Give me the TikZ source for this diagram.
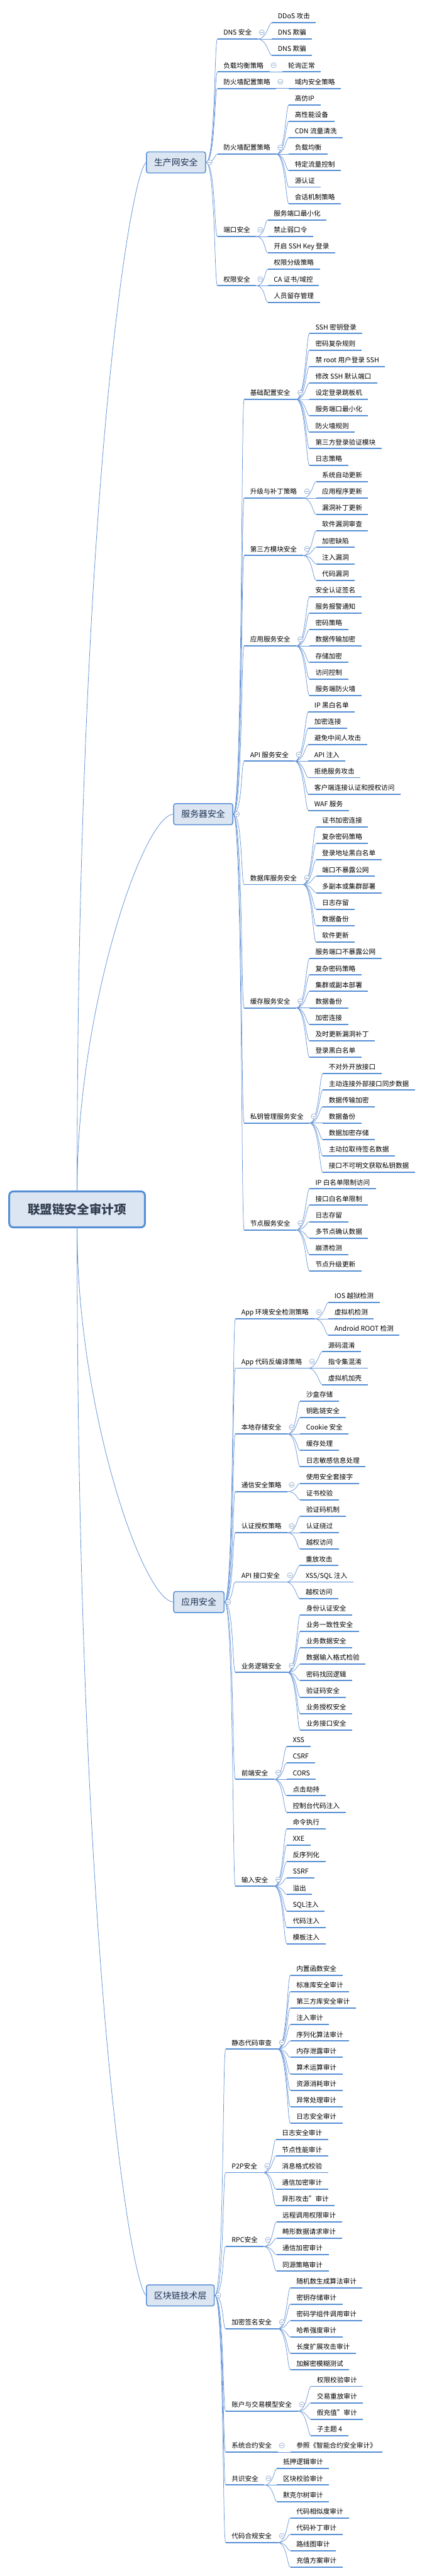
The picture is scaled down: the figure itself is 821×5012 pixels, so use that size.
\documentclass[tikz,border=0pt]{standalone}
\usepackage{fontspec}
\setmainfont{Noto Sans CJK SC}
\usepackage{tikz}
\usetikzlibrary{calc}
\definecolor{topicblue}{RGB}{85,142,213}
\definecolor{topicfill}{RGB}{220,230,242}
\definecolor{linkblue}{RGB}{105,150,215}
\definecolor{foldgray}{RGB}{140,165,205}
\definecolor{roottext}{RGB}{52,64,82}
\definecolor{maintext}{RGB}{31,50,85}

\begin{document}
\begin{tikzpicture}[
  x=1pt, y=1pt,
  rootbox/.style={rectangle,rounded corners=8pt,draw=topicblue,line width=3.6pt,fill=topicfill,minimum width=264pt,minimum height=70pt,text=roottext,font=\fontsize{24pt}{28pt}\selectfont\bfseries},
  mainbox/.style={rectangle,rounded corners=4pt,draw=topicblue,line width=1.8pt,fill=topicfill,anchor=west,inner xsep=15pt,minimum height=41pt,text=maintext,font=\fontsize{17pt}{20pt}\selectfont},
  leaf/.style={anchor=south west,inner xsep=11.5pt,inner ysep=5.5pt,text height=10.5pt,text depth=2pt,font=\fontsize{13pt}{15pt}\selectfont,append after command={(\tikzlastnode.south west) edge[uline] (\tikzlastnode.south east)}},
  subtopic/.style={leaf},
  uline/.style={draw=topicblue,line width=2.4pt},
  link/.style={draw=linkblue,line width=0.9pt,to path={.. controls +(18,0) and +(-6,0) .. (\tikztotarget)}},
  rootlink/.style={draw=linkblue,line width=1pt},
  foldmark/.pic={\draw[foldgray,fill=white,line width=0.8pt] (0,0) circle[radius=5pt]; \draw[foldgray,line width=0.8pt] (-2.8pt,0) -- (2.8pt,0);}
]
  \useasboundingbox (0,0) rectangle (821,-5012);

  % root and main topics
  \node[rootbox] (root) at (150,-2353) {联盟链安全审计项};
  \node[mainbox] (prod) at (284,-316) {生产网安全};
  \node[mainbox] (srv) at (337,-1584) {服务器安全};
  \node[mainbox] (app) at (337,-3117) {应用安全};
  \node[mainbox] (chain) at (284,-4466) {区块链技术层};

  % 生产网安全
  \node[subtopic] (dns) at (423,-76) {DNS 安全};
  \node[leaf] (dns1) at (529,-44) {DDoS 攻击};
  \node[leaf] (dns2) at (529,-76) {DNS 欺骗};
  \node[leaf] (dns3) at (529,-108) {DNS 欺骗};
  \node[subtopic] (lb) at (423,-140) {负载均衡策略};
  \node[leaf] (lb1) at (549,-140) {轮询正常};
  \node[subtopic] (fwa) at (423,-172) {防火墙配置策略};
  \node[leaf] (fwa1) at (562,-172) {域内安全策略};
  \node[subtopic] (fwb) at (423,-300) {防火墙配置策略};
  \node[leaf] (fwb1) at (562,-204) {高仿IP};
  \node[leaf] (fwb2) at (562,-236) {高性能设备};
  \node[leaf] (fwb3) at (562,-268) {CDN 流量清洗};
  \node[leaf] (fwb4) at (562,-300) {负载均衡};
  \node[leaf] (fwb5) at (562,-332) {特定流量控制};
  \node[leaf] (fwb6) at (562,-364) {源认证};
  \node[leaf] (fwb7) at (562,-396) {会话机制策略};
  \node[subtopic] (port) at (423,-460) {端口安全};
  \node[leaf] (port1) at (521,-428) {服务端口最小化};
  \node[leaf] (port2) at (521,-460) {禁止弱口令};
  \node[leaf] (port3) at (521,-492) {开启 SSH Key 登录};
  \node[subtopic] (perm) at (423,-556) {权限安全};
  \node[leaf] (perm1) at (521,-524) {权限分级策略};
  \node[leaf] (perm2) at (521,-556) {CA 证书/域控};
  \node[leaf] (perm3) at (521,-588) {人员留存管理};

  % 服务器安全
  \node[subtopic] (base) at (475,-777) {基础配置安全};
  \node[leaf] (base1) at (602,-649) {SSH 密钥登录};
  \node[leaf] (base2) at (602,-681) {密码复杂规则};
  \node[leaf] (base3) at (602,-713) {禁 root 用户登录 SSH};
  \node[leaf] (base4) at (602,-745) {修改 SSH 默认端口};
  \node[leaf] (base5) at (602,-777) {设定登录跳板机};
  \node[leaf] (base6) at (602,-809) {服务端口最小化};
  \node[leaf] (base7) at (602,-841) {防火墙规则};
  \node[leaf] (base8) at (602,-873) {第三方登录验证模块};
  \node[leaf] (base9) at (602,-905) {日志策略};
  \node[subtopic] (patch) at (475,-969) {升级与补丁策略};
  \node[leaf] (patch1) at (615,-937) {系统自动更新};
  \node[leaf] (patch2) at (615,-969) {应用程序更新};
  \node[leaf] (patch3) at (615,-1001) {漏洞补丁更新};
  \node[subtopic] (third) at (475,-1081) {第三方模块安全};
  \node[leaf] (third1) at (615,-1033) {软件漏洞审查};
  \node[leaf] (third2) at (615,-1065) {加密缺陷};
  \node[leaf] (third3) at (615,-1097) {注入漏洞};
  \node[leaf] (third4) at (615,-1129) {代码漏洞};
  \node[subtopic] (appsvc) at (475,-1257) {应用服务安全};
  \node[leaf] (appsvc1) at (602,-1161) {安全认证签名};
  \node[leaf] (appsvc2) at (602,-1193) {服务报警通知};
  \node[leaf] (appsvc3) at (602,-1225) {密码策略};
  \node[leaf] (appsvc4) at (602,-1257) {数据传输加密};
  \node[leaf] (appsvc5) at (602,-1289) {存储加密};
  \node[leaf] (appsvc6) at (602,-1321) {访问控制};
  \node[leaf] (appsvc7) at (602,-1353) {服务端防火墙};
  \node[subtopic] (api) at (475,-1481) {API 服务安全};
  \node[leaf] (api1) at (600,-1385) {IP 黑白名单};
  \node[leaf] (api2) at (600,-1417) {加密连接};
  \node[leaf] (api3) at (600,-1449) {避免中间人攻击};
  \node[leaf] (api4) at (600,-1481) {API 注入};
  \node[leaf] (api5) at (600,-1513) {拒绝服务攻击};
  \node[leaf] (api6) at (600,-1545) {客户端连接认证和授权访问};
  \node[leaf] (api7) at (600,-1577) {WAF 服务};
  \node[subtopic] (db) at (475,-1721) {数据库服务安全};
  \node[leaf] (db1) at (615,-1609) {证书加密连接};
  \node[leaf] (db2) at (615,-1641) {复杂密码策略};
  \node[leaf] (db3) at (615,-1673) {登录地址黑白名单};
  \node[leaf] (db4) at (615,-1705) {端口不暴露公网};
  \node[leaf] (db5) at (615,-1737) {多副本或集群部署};
  \node[leaf] (db6) at (615,-1769) {日志存留};
  \node[leaf] (db7) at (615,-1801) {数据备份};
  \node[leaf] (db8) at (615,-1833) {软件更新};
  \node[subtopic] (cache) at (475,-1961) {缓存服务安全};
  \node[leaf] (cache1) at (602,-1865) {服务端口不暴露公网};
  \node[leaf] (cache2) at (602,-1897) {复杂密码策略};
  \node[leaf] (cache3) at (602,-1929) {集群或副本部署};
  \node[leaf] (cache4) at (602,-1961) {数据备份};
  \node[leaf] (cache5) at (602,-1993) {加密连接};
  \node[leaf] (cache6) at (602,-2025) {及时更新漏洞补丁};
  \node[leaf] (cache7) at (602,-2057) {登录黑白名单};
  \node[subtopic] (key) at (475,-2185) {私钥管理服务安全};
  \node[leaf] (key1) at (628,-2089) {不对外开放接口};
  \node[leaf] (key2) at (628,-2121) {主动连接外部接口同步数据};
  \node[leaf] (key3) at (628,-2153) {数据传输加密};
  \node[leaf] (key4) at (628,-2185) {数据备份};
  \node[leaf] (key5) at (628,-2217) {数据加密存储};
  \node[leaf] (key6) at (628,-2249) {主动拉取待签名数据};
  \node[leaf] (key7) at (628,-2281) {接口不可明文获取私钥数据};
  \node[subtopic] (peer) at (475,-2393) {节点服务安全};
  \node[leaf] (peer1) at (602,-2313) {IP 白名单限制访问};
  \node[leaf] (peer2) at (602,-2345) {接口白名单限制};
  \node[leaf] (peer3) at (602,-2377) {日志存留};
  \node[leaf] (peer4) at (602,-2409) {多节点确认数据};
  \node[leaf] (peer5) at (602,-2441) {崩溃检测};
  \node[leaf] (peer6) at (602,-2473) {节点升级更新};

  % 应用安全
  \node[subtopic] (env) at (458,-2566) {App 环境安全检测策略};
  \node[leaf] (env1) at (639,-2534) {IOS 越狱检测};
  \node[leaf] (env2) at (639,-2566) {虚拟机检测};
  \node[leaf] (env3) at (639,-2598) {Android ROOT 检测};
  \node[subtopic] (decomp) at (458,-2662) {App 代码反编译策略};
  \node[leaf] (decomp1) at (627,-2630) {源码混淆};
  \node[leaf] (decomp2) at (627,-2662) {指令集混淆};
  \node[leaf] (decomp3) at (627,-2694) {虚拟机加壳};
  \node[subtopic] (store) at (458,-2790) {本地存储安全};
  \node[leaf] (store1) at (584,-2726) {沙盒存储};
  \node[leaf] (store2) at (584,-2758) {钥匙链安全};
  \node[leaf] (store3) at (584,-2790) {Cookie 安全};
  \node[leaf] (store4) at (584,-2822) {缓存处理};
  \node[leaf] (store5) at (584,-2854) {日志敏感信息处理};
  \node[subtopic] (comm) at (458,-2902) {通信安全策略};
  \node[leaf] (comm1) at (584,-2886) {使用安全套接字};
  \node[leaf] (comm2) at (584,-2918) {证书校验};
  \node[subtopic] (auth) at (458,-2982) {认证授权策略};
  \node[leaf] (auth1) at (584,-2950) {验证码机制};
  \node[leaf] (auth2) at (584,-2982) {认证绕过};
  \node[leaf] (auth3) at (584,-3014) {越权访问};
  \node[subtopic] (apiif) at (458,-3078) {API 接口安全};
  \node[leaf] (apiif1) at (583,-3046) {重放攻击};
  \node[leaf] (apiif2) at (583,-3078) {XSS/SQL 注入};
  \node[leaf] (apiif3) at (583,-3110) {越权访问};
  \node[subtopic] (logic) at (458,-3254) {业务逻辑安全};
  \node[leaf] (logic1) at (584,-3142) {身份认证安全};
  \node[leaf] (logic2) at (584,-3174) {业务一致性安全};
  \node[leaf] (logic3) at (584,-3206) {业务数据安全};
  \node[leaf] (logic4) at (584,-3238) {数据输入格式检验};
  \node[leaf] (logic5) at (584,-3270) {密码找回逻辑};
  \node[leaf] (logic6) at (584,-3302) {验证码安全};
  \node[leaf] (logic7) at (584,-3334) {业务授权安全};
  \node[leaf] (logic8) at (584,-3366) {业务接口安全};
  \node[subtopic] (front) at (458,-3462) {前端安全};
  \node[leaf] (front1) at (558,-3398) {XSS};
  \node[leaf] (front2) at (558,-3430) {CSRF};
  \node[leaf] (front3) at (558,-3462) {CORS};
  \node[leaf] (front4) at (558,-3494) {点击劫持};
  \node[leaf] (front5) at (558,-3526) {控制台代码注入};
  \node[subtopic] (input) at (458,-3670) {输入安全};
  \node[leaf] (input1) at (558,-3558) {命令执行};
  \node[leaf] (input2) at (558,-3590) {XXE};
  \node[leaf] (input3) at (558,-3622) {反序列化};
  \node[leaf] (input4) at (558,-3654) {SSRF};
  \node[leaf] (input5) at (558,-3686) {溢出};
  \node[leaf] (input6) at (558,-3718) {SQL注入};
  \node[leaf] (input7) at (558,-3750) {代码注入};
  \node[leaf] (input8) at (558,-3782) {模板注入};

  % 区块链技术层
  \node[subtopic] (static) at (439,-3987) {静态代码审查};
  \node[leaf] (static1) at (565,-3843) {内置函数安全};
  \node[leaf] (static2) at (565,-3875) {标准库安全审计};
  \node[leaf] (static3) at (565,-3907) {第三方库安全审计};
  \node[leaf] (static4) at (565,-3939) {注入审计};
  \node[leaf] (static5) at (565,-3971) {序列化算法审计};
  \node[leaf] (static6) at (565,-4003) {内存泄露审计};
  \node[leaf] (static7) at (565,-4035) {算术运算审计};
  \node[leaf] (static8) at (565,-4067) {资源消耗审计};
  \node[leaf] (static9) at (565,-4099) {异常处理审计};
  \node[leaf] (static10) at (565,-4131) {日志安全审计};
  \node[subtopic] (ptp) at (439,-4227) {P2P安全};
  \node[leaf] (ptp1) at (537,-4163) {日志安全审计};
  \node[leaf] (ptp2) at (537,-4195) {节点性能审计};
  \node[leaf] (ptp3) at (537,-4227) {消息格式校验};
  \node[leaf] (ptp4) at (537,-4259) {通信加密审计};
  \node[leaf] (ptp5) at (537,-4291) {异形攻击”审计};
  \node[subtopic] (rpc) at (439,-4371) {RPC安全};
  \node[leaf] (rpc1) at (538,-4323) {远程调用权限审计};
  \node[leaf] (rpc2) at (538,-4355) {畸形数据请求审计};
  \node[leaf] (rpc3) at (538,-4387) {通信加密审计};
  \node[leaf] (rpc4) at (538,-4419) {同源策略审计};
  \node[subtopic] (crypt) at (439,-4531) {加密签名安全};
  \node[leaf] (crypt1) at (565,-4451) {随机数生成算法审计};
  \node[leaf] (crypt2) at (565,-4483) {密钥存储审计};
  \node[leaf] (crypt3) at (565,-4515) {密码学组件调用审计};
  \node[leaf] (crypt4) at (565,-4547) {哈希强度审计};
  \node[leaf] (crypt5) at (565,-4579) {长度扩展攻击审计};
  \node[leaf] (crypt6) at (565,-4611) {加解密模糊测试};
  \node[subtopic] (acct) at (439,-4691) {账户与交易模型安全};
  \node[leaf] (acct1) at (605,-4643) {权限校验审计};
  \node[leaf] (acct2) at (605,-4675) {交易重放审计};
  \node[leaf] (acct3) at (605,-4707) {假充值”审计};
  \node[leaf] (acct4) at (605,-4739) {子主题 4};
  \node[subtopic] (sysc) at (439,-4771) {系统合约安全};
  \node[leaf] (sysc1) at (565,-4771) {参照《智能合约安全审计》};
  \node[subtopic] (cons) at (439,-4835) {共识安全};
  \node[leaf] (cons1) at (539,-4803) {抵押逻辑审计};
  \node[leaf] (cons2) at (539,-4835) {区块校验审计};
  \node[leaf] (cons3) at (539,-4867) {默克尔树审计};
  \node[subtopic] (comply) at (439,-4947) {代码合规安全};
  \node[leaf] (comply1) at (565,-4899) {代码相似度审计};
  \node[leaf] (comply2) at (565,-4931) {代码补丁审计};
  \node[leaf] (comply3) at (565,-4963) {路线图审计};
  \node[leaf] (comply4) at (565,-4995) {充值方案审计};

  % root links
  \draw[rootlink] (root.north) .. controls +(0,1318) and +(-34,-34) .. (prod.west);
  \draw[rootlink] (root.north) .. controls +(0,350) and +(-60,-5) .. (srv.west);
  \draw[rootlink] (root.south) .. controls +(0,-350) and +(-60,5) .. (app.west);
  \draw[rootlink] (root.south) .. controls +(0,-1370) and +(-34,34) .. (chain.west);

  % main topic links
  \path (prod.east) edge[link] (dns.south west) edge[link] (lb.south west) edge[link] (fwa.south west) edge[link] (fwb.south west) edge[link] (port.south west) edge[link] (perm.south west);
  \path (srv.east) edge[link] (base.south west) edge[link] (patch.south west) edge[link] (third.south west) edge[link] (appsvc.south west) edge[link] (api.south west) edge[link] (db.south west) edge[link] (cache.south west) edge[link] (key.south west) edge[link] (peer.south west);
  \path (app.east) edge[link] (env.south west) edge[link] (decomp.south west) edge[link] (store.south west) edge[link] (comm.south west) edge[link] (auth.south west) edge[link] (apiif.south west) edge[link] (logic.south west) edge[link] (front.south west) edge[link] (input.south west);
  \path (chain.east) edge[link] (static.south west) edge[link] (ptp.south west) edge[link] (rpc.south west) edge[link] (crypt.south west) edge[link] (acct.south west) edge[link] (sysc.south west) edge[link] (cons.south west) edge[link] (comply.south west);

  % leaf links
  \path (dns.south east) edge[link] (dns1.south west) edge[link] (dns2.south west) edge[link] (dns3.south west);
  \path (lb.south east) edge[link] (lb1.south west);
  \path (fwa.south east) edge[link] (fwa1.south west);
  \path (fwb.south east) edge[link] (fwb1.south west) edge[link] (fwb2.south west) edge[link] (fwb3.south west) edge[link] (fwb4.south west) edge[link] (fwb5.south west) edge[link] (fwb6.south west) edge[link] (fwb7.south west);
  \path (port.south east) edge[link] (port1.south west) edge[link] (port2.south west) edge[link] (port3.south west);
  \path (perm.south east) edge[link] (perm1.south west) edge[link] (perm2.south west) edge[link] (perm3.south west);
  \path (base.south east) edge[link] (base1.south west) edge[link] (base2.south west) edge[link] (base3.south west) edge[link] (base4.south west) edge[link] (base5.south west) edge[link] (base6.south west) edge[link] (base7.south west) edge[link] (base8.south west) edge[link] (base9.south west);
  \path (patch.south east) edge[link] (patch1.south west) edge[link] (patch2.south west) edge[link] (patch3.south west);
  \path (third.south east) edge[link] (third1.south west) edge[link] (third2.south west) edge[link] (third3.south west) edge[link] (third4.south west);
  \path (appsvc.south east) edge[link] (appsvc1.south west) edge[link] (appsvc2.south west) edge[link] (appsvc3.south west) edge[link] (appsvc4.south west) edge[link] (appsvc5.south west) edge[link] (appsvc6.south west) edge[link] (appsvc7.south west);
  \path (api.south east) edge[link] (api1.south west) edge[link] (api2.south west) edge[link] (api3.south west) edge[link] (api4.south west) edge[link] (api5.south west) edge[link] (api6.south west) edge[link] (api7.south west);
  \path (db.south east) edge[link] (db1.south west) edge[link] (db2.south west) edge[link] (db3.south west) edge[link] (db4.south west) edge[link] (db5.south west) edge[link] (db6.south west) edge[link] (db7.south west) edge[link] (db8.south west);
  \path (cache.south east) edge[link] (cache1.south west) edge[link] (cache2.south west) edge[link] (cache3.south west) edge[link] (cache4.south west) edge[link] (cache5.south west) edge[link] (cache6.south west) edge[link] (cache7.south west);
  \path (key.south east) edge[link] (key1.south west) edge[link] (key2.south west) edge[link] (key3.south west) edge[link] (key4.south west) edge[link] (key5.south west) edge[link] (key6.south west) edge[link] (key7.south west);
  \path (peer.south east) edge[link] (peer1.south west) edge[link] (peer2.south west) edge[link] (peer3.south west) edge[link] (peer4.south west) edge[link] (peer5.south west) edge[link] (peer6.south west);
  \path (env.south east) edge[link] (env1.south west) edge[link] (env2.south west) edge[link] (env3.south west);
  \path (decomp.south east) edge[link] (decomp1.south west) edge[link] (decomp2.south west) edge[link] (decomp3.south west);
  \path (store.south east) edge[link] (store1.south west) edge[link] (store2.south west) edge[link] (store3.south west) edge[link] (store4.south west) edge[link] (store5.south west);
  \path (comm.south east) edge[link] (comm1.south west) edge[link] (comm2.south west);
  \path (auth.south east) edge[link] (auth1.south west) edge[link] (auth2.south west) edge[link] (auth3.south west);
  \path (apiif.south east) edge[link] (apiif1.south west) edge[link] (apiif2.south west) edge[link] (apiif3.south west);
  \path (logic.south east) edge[link] (logic1.south west) edge[link] (logic2.south west) edge[link] (logic3.south west) edge[link] (logic4.south west) edge[link] (logic5.south west) edge[link] (logic6.south west) edge[link] (logic7.south west) edge[link] (logic8.south west);
  \path (front.south east) edge[link] (front1.south west) edge[link] (front2.south west) edge[link] (front3.south west) edge[link] (front4.south west) edge[link] (front5.south west);
  \path (input.south east) edge[link] (input1.south west) edge[link] (input2.south west) edge[link] (input3.south west) edge[link] (input4.south west) edge[link] (input5.south west) edge[link] (input6.south west) edge[link] (input7.south west) edge[link] (input8.south west);
  \path (static.south east) edge[link] (static1.south west) edge[link] (static2.south west) edge[link] (static3.south west) edge[link] (static4.south west) edge[link] (static5.south west) edge[link] (static6.south west) edge[link] (static7.south west) edge[link] (static8.south west) edge[link] (static9.south west) edge[link] (static10.south west);
  \path (ptp.south east) edge[link] (ptp1.south west) edge[link] (ptp2.south west) edge[link] (ptp3.south west) edge[link] (ptp4.south west) edge[link] (ptp5.south west);
  \path (rpc.south east) edge[link] (rpc1.south west) edge[link] (rpc2.south west) edge[link] (rpc3.south west) edge[link] (rpc4.south west);
  \path (crypt.south east) edge[link] (crypt1.south west) edge[link] (crypt2.south west) edge[link] (crypt3.south west) edge[link] (crypt4.south west) edge[link] (crypt5.south west) edge[link] (crypt6.south west);
  \path (acct.south east) edge[link] (acct1.south west) edge[link] (acct2.south west) edge[link] (acct3.south west) edge[link] (acct4.south west);
  \path (sysc.south east) edge[link] (sysc1.south west);
  \path (cons.south east) edge[link] (cons1.south west) edge[link] (cons2.south west) edge[link] (cons3.south west);
  \path (comply.south east) edge[link] (comply1.south west) edge[link] (comply2.south west) edge[link] (comply3.south west) edge[link] (comply4.south west);

  % fold markers
  \pic at ([xshift=7pt]prod.east) {foldmark};
  \pic at ([xshift=7pt]srv.east) {foldmark};
  \pic at ([xshift=7pt]app.east) {foldmark};
  \pic at ([xshift=7pt]chain.east) {foldmark};
  \pic at ([shift={(8pt,13pt)}]dns.south east) {foldmark};
  \pic at ([shift={(8pt,13pt)}]lb.south east) {foldmark};
  \pic at ([shift={(8pt,13pt)}]fwa.south east) {foldmark};
  \pic at ([shift={(8pt,13pt)}]fwb.south east) {foldmark};
  \pic at ([shift={(8pt,13pt)}]port.south east) {foldmark};
  \pic at ([shift={(8pt,13pt)}]perm.south east) {foldmark};
  \pic at ([shift={(8pt,13pt)}]base.south east) {foldmark};
  \pic at ([shift={(8pt,13pt)}]patch.south east) {foldmark};
  \pic at ([shift={(8pt,13pt)}]third.south east) {foldmark};
  \pic at ([shift={(8pt,13pt)}]appsvc.south east) {foldmark};
  \pic at ([shift={(8pt,13pt)}]api.south east) {foldmark};
  \pic at ([shift={(8pt,13pt)}]db.south east) {foldmark};
  \pic at ([shift={(8pt,13pt)}]cache.south east) {foldmark};
  \pic at ([shift={(8pt,13pt)}]key.south east) {foldmark};
  \pic at ([shift={(8pt,13pt)}]peer.south east) {foldmark};
  \pic at ([shift={(8pt,13pt)}]env.south east) {foldmark};
  \pic at ([shift={(8pt,13pt)}]decomp.south east) {foldmark};
  \pic at ([shift={(8pt,13pt)}]store.south east) {foldmark};
  \pic at ([shift={(8pt,13pt)}]comm.south east) {foldmark};
  \pic at ([shift={(8pt,13pt)}]auth.south east) {foldmark};
  \pic at ([shift={(8pt,13pt)}]apiif.south east) {foldmark};
  \pic at ([shift={(8pt,13pt)}]logic.south east) {foldmark};
  \pic at ([shift={(8pt,13pt)}]front.south east) {foldmark};
  \pic at ([shift={(8pt,13pt)}]input.south east) {foldmark};
  \pic at ([shift={(8pt,13pt)}]static.south east) {foldmark};
  \pic at ([shift={(8pt,13pt)}]ptp.south east) {foldmark};
  \pic at ([shift={(8pt,13pt)}]rpc.south east) {foldmark};
  \pic at ([shift={(8pt,13pt)}]crypt.south east) {foldmark};
  \pic at ([shift={(8pt,13pt)}]acct.south east) {foldmark};
  \pic at ([shift={(8pt,13pt)}]sysc.south east) {foldmark};
  \pic at ([shift={(8pt,13pt)}]cons.south east) {foldmark};
  \pic at ([shift={(8pt,13pt)}]comply.south east) {foldmark};
\end{tikzpicture}
\end{document}
